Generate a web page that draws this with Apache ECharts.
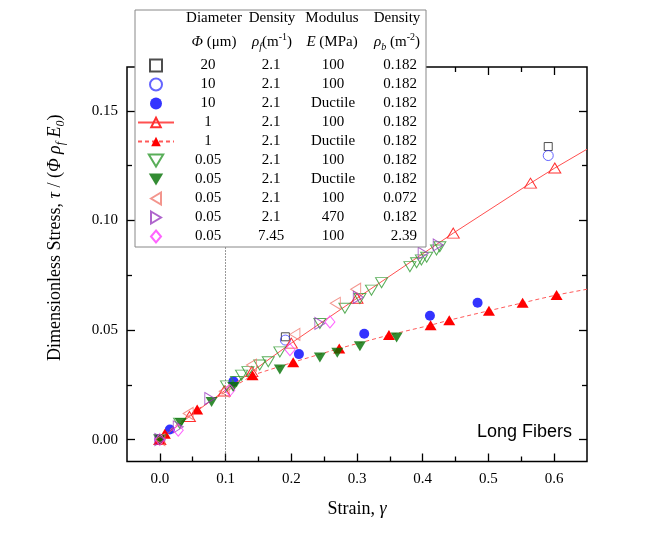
<!DOCTYPE html>
<html><head><meta charset="utf-8">
<script src="https://cdn.jsdelivr.net/npm/echarts@6/dist/echarts.min.js"></script>
<style>html,body{margin:0;padding:0;background:#fff}#c{width:667px;height:541px}</style>
</head><body><div id="c"></div>
<script>
// ---- table (legend) values ----
const diameter     = ['20','10','10','1','1','0.05','0.05','0.05','0.05','0.05'];
const fiberDensity = ['2.1','2.1','2.1','2.1','2.1','2.1','2.1','2.1','2.1','7.45'];
const modulus      = ['100','100','Ductile','100','Ductile','100','Ductile','100','470','100'];
const bondDensity  = ['0.182','0.182','0.182','0.182','0.182','0.182','0.182','0.072','0.182','2.39'];
const headerRow1 = ['Diameter','Density','Modulus','Density'];
const headerRow2 = ['{i|Φ} (μm)','{i|ρ}{sub|f}(m{sup|-1})','{i|E} (MPa)','{i|ρ}{sub|b} (m{sup|-2})'];

// ---- tick labels ----
const xTickLabels = ['0.0','0.1','0.2','0.3','0.4','0.5','0.6'];
const yTickLabels = ['0.00','0.05','0.10','0.15'];

// ---- series values [strain, stress] ----
const d20_E100   = [[0,0],[0.191,0.0469],[0.591,0.1337]];
const d10_E100   = [[0,0],[0.191,0.0454],[0.591,0.1296]];
const d10_duct   = [[0,0],[0.0152,0.0046],[0.112,0.0266],[0.2116,0.039],[0.311,0.0483],[0.411,0.0565],[0.4835,0.0624]];
const d1_E100    = [[0,0],[0.045,0.0105],[0.098,0.0222],[0.14,0.031],[0.2,0.044],[0.3,0.0645],[0.4465,0.0942],[0.564,0.117],[0.601,0.1239]];
const d1_E100_lineEnd = [0.65,0.1325];
const d1_duct    = [[0,0],[0.0076,0.0027],[0.0568,0.0137],[0.141,0.0294],[0.2029,0.0353],[0.273,0.0416],[0.3486,0.0477],[0.412,0.0522],[0.4404,0.0545],[0.5008,0.0588],[0.552,0.0624],[0.6037,0.066]];
const d1_duct_lineEnd = [0.65,0.0686];
const d005_E100  = [[0,0],[0.03,0.0075],[0.1015,0.0245],[0.1167,0.0265],[0.1243,0.0294],[0.134,0.031],[0.152,0.034],[0.165,0.0355],[0.1826,0.04],[0.2435,0.053],[0.2816,0.0599],[0.3044,0.0644],[0.322,0.0682],[0.3374,0.0716],[0.3805,0.0789],[0.3907,0.0807],[0.398,0.082],[0.406,0.0832],[0.421,0.0865],[0.426,0.088]];
const d005_duct  = [[0,0],[0.0315,0.0076],[0.0787,0.0172],[0.1116,0.024],[0.1826,0.032],[0.2435,0.0375],[0.27,0.0396],[0.3044,0.0426],[0.3603,0.0466]];
const d005_b072  = [[0,0],[0.0431,0.0119],[0.098,0.0221],[0.1395,0.034],[0.2055,0.048],[0.267,0.0622],[0.298,0.0686]];
const d005_E470  = [[0,0],[0.028,0.0058],[0.076,0.0187],[0.2435,0.053],[0.302,0.0649],[0.4007,0.085],[0.4236,0.0888]];
const d005_f745  = [[0,0],[0.028,0.0043],[0.1065,0.0225],[0.198,0.041],[0.2588,0.0537]];
const refStrain = 0.1;

// ---- layout ----
const L=127, W=460, T=67, H=394.5;
const X0=-0.05, X1=0.65, Y0=-0.01, Y1=0.17;
const TX1=0.6, TY1=0.15;
const gx = L + W*(0-X0)/(X1-X0), gw = W*(TX1-0)/(X1-X0);
const gy = T + H*(Y1-TY1)/(Y1-Y0), gh = H*(TY1-0)/(Y1-Y0);
const offB = (T+H)-(gy+gh), offT = gy-T, offL = gx-L, offR = (L+W)-(gx+gw);

const SERIF = 'Liberation Serif';
const SYM = {
  square:'path://M0,0H10V10H0Z',
  up:'path://M6,0L12,10H0Z',
  down:'path://M0,0H12L6,10Z',
  left:'path://M0,6L10,0V12Z',
  right:'path://M0,0L10,6L0,12Z',
  diamond:'path://M5,0L10,6L5,12L0,6Z'
};
const names = diameter.map((d,i)=>'s'+i);
const open = c => ({color:'rgba(255,255,255,0)', borderColor:c, borderWidth:1});
const fill = c => ({color:c, borderWidth:0});

const defs = [
  {data:d20_E100, symbol:SYM.square, size:8, style:open('#222')},
  {data:d10_E100, symbol:'circle', size:10, style:open('#3f3fff')},
  {data:d10_duct, symbol:'circle', size:10, style:fill('#0000ff')},
  {data:d1_E100.concat([{value:d1_E100_lineEnd, symbol:'none'}]), symbol:SYM.up, size:[12,10], style:open('#ff3030'), line:{color:'#ff5050', width:1, type:'solid'}},
  {data:d1_duct.concat([{value:d1_duct_lineEnd, symbol:'none'}]), symbol:SYM.up, size:[12,10], style:fill('#ff0000'), line:{color:'#ff5a5a', width:1, type:[4,3]}},
  {data:d005_E100, symbol:SYM.down, size:[12,10], style:open('#2f9a2f')},
  {data:d005_duct, symbol:SYM.down, size:[12,10], style:fill('#006f00')},
  {data:d005_b072, symbol:SYM.left, size:[10,12], style:open('#f07a70')},
  {data:d005_E470, symbol:SYM.right, size:[10,12], style:open('#9b3fc0')},
  {data:d005_f745, symbol:SYM.diamond, size:[10,12], style:open('#ff3cff')}
];

const series = defs.map((d,i)=>{
  const s = {
    name:names[i], type: d.line ? 'line' : 'scatter', xAxisIndex:0, yAxisIndex:0,
    data:d.data, symbol:d.symbol, symbolSize:d.size,
    itemStyle:d.style, emphasis:{disabled:true}, silent:true, z:2+i*0.01
  };
  if (d.line) { s.lineStyle = d.line; s.showSymbol = true; s.showAllSymbol = true; }
  return s;
});
series[0].markLine = {silent:true, symbol:['none','none'], label:{show:false},
  lineStyle:{type:[1,2], color:'#333', width:1}, data:[{xAxis:refStrain}]};

const tickStyle = {color:'#000', width:1.3};
const richHead = {
  i:{fontStyle:'italic', fontFamily:SERIF, fontSize:15, lineHeight:20, color:'#000'},
  sub:{fontStyle:'italic', fontFamily:SERIF, fontSize:10, lineHeight:10, verticalAlign:'bottom', color:'#000'},
  sup:{fontFamily:SERIF, fontSize:10, lineHeight:10, verticalAlign:'top', color:'#000'}
};
const colX = [214, 272, 332, 397];
const graphics = [];
headerRow1.forEach((t,i)=>graphics.push({type:'text', x:colX[i], y:18, z:100, style:{text:t, fontFamily:SERIF, fontSize:15, fill:'#000', align:'center', verticalAlign:'middle'}}));
headerRow2.forEach((t,i)=>graphics.push({type:'text', x:colX[i], y:42, z:100, style:{text:t, fontFamily:SERIF, fontSize:15, lineHeight:20, fill:'#000', align:'center', verticalAlign:'middle', rich:richHead}}));

const option = {
  animation:false,
  backgroundColor:'#fff',
  title:{text:'Long Fibers', right:95, top:423, padding:0,
    textStyle:{fontFamily:'Liberation Sans', fontSize:18, fontWeight:'normal', color:'#000'}},
  grid:[
    {left:L, top:T, width:W, height:H, show:true, borderColor:'#000', borderWidth:1.5, backgroundColor:'transparent'},
    {left:gx, top:gy, width:gw, height:gh}
  ],
  xAxis:[
    {gridIndex:0, type:'value', min:X0, max:X1, axisLine:{show:false, onZero:false}, axisTick:{show:false}, axisLabel:{show:false}, splitLine:{show:false},
     name:'Strain, {i|γ}', nameLocation:'middle', nameGap:39,
     nameTextStyle:{fontFamily:SERIF, fontSize:18, color:'#000', rich:{i:{fontStyle:'italic', fontFamily:SERIF, fontSize:18, color:'#000'}}}},
    {gridIndex:1, type:'value', min:0, max:TX1, interval:0.1, position:'bottom', offset:offB,
     axisLine:{show:false, onZero:false}, splitLine:{show:false},
     axisTick:{inside:true, length:8, lineStyle:tickStyle},
     minorTick:{show:true, splitNumber:2, length:5, lineStyle:tickStyle},
     axisLabel:{margin:10, fontFamily:SERIF, fontSize:15, color:'#000', formatter:v=>xTickLabels[Math.round(v*10)]}},
    {gridIndex:1, type:'value', min:0, max:TX1, interval:0.1, position:'top', offset:offT,
     axisLine:{show:false, onZero:false}, splitLine:{show:false},
     axisTick:{inside:true, length:8, lineStyle:tickStyle},
     minorTick:{show:true, splitNumber:2, length:5, lineStyle:tickStyle},
     axisLabel:{show:false}}
  ],
  yAxis:[
    {gridIndex:0, type:'value', min:Y0, max:Y1, axisLine:{show:false, onZero:false}, axisTick:{show:false}, axisLabel:{show:false}, splitLine:{show:false},
     name:'{sp| }Dimensionless Stress, {i|τ} / ({i|Φ} {i|ρ}{sub|f} {i|E}{sub|0})', nameLocation:'middle', nameGap:60,
     nameTextStyle:{fontFamily:SERIF, fontSize:18, lineHeight:24, color:'#000', rich:{
       sp:{width:53, fontSize:18, lineHeight:24},
       i:{fontStyle:'italic', fontFamily:SERIF, fontSize:18, lineHeight:24, color:'#000'},
       sub:{fontStyle:'italic', fontFamily:SERIF, fontSize:12, lineHeight:12, verticalAlign:'bottom', color:'#000'}}}},
    {gridIndex:1, type:'value', min:0, max:TY1, interval:0.05, position:'left', offset:offL,
     axisLine:{show:false, onZero:false}, splitLine:{show:false},
     axisTick:{inside:true, length:8, lineStyle:tickStyle},
     minorTick:{show:true, splitNumber:2, length:5, lineStyle:tickStyle},
     axisLabel:{margin:9, fontFamily:SERIF, fontSize:15, color:'#000', formatter:v=>yTickLabels[Math.round(v*20)]}},
    {gridIndex:1, type:'value', min:0, max:TY1, interval:0.05, position:'right', offset:offR,
     axisLine:{show:false, onZero:false}, splitLine:{show:false},
     axisTick:{inside:true, length:8, lineStyle:tickStyle},
     minorTick:{show:true, splitNumber:2, length:5, lineStyle:tickStyle},
     axisLabel:{show:false}}
  ],
  legend:{
    left:135, top:10, orient:'vertical', itemWidth:36, itemHeight:12, itemGap:0,
    padding:[46,9,1,2], backgroundColor:'#fff', borderColor:'#888', borderWidth:1,
    selectedMode:false, data:names, z:10, symbolKeepAspect:true,
    formatter:name=>{const i=names.indexOf(name); return `{a|${diameter[i]}}{b|${fiberDensity[i]}}{c|${modulus[i]}}{d|${bondDensity[i]}}`;},
    textStyle:{fontFamily:SERIF, fontSize:15, color:'#000', lineHeight:19, rich:{
      a:{width:58, align:'center', fontFamily:SERIF, fontSize:15, lineHeight:19, color:'#000'},
      b:{width:68, align:'center', fontFamily:SERIF, fontSize:15, lineHeight:19, color:'#000'},
      c:{width:56, align:'center', fontFamily:SERIF, fontSize:15, lineHeight:19, color:'#000'},
      d:{width:56, align:'right', fontFamily:SERIF, fontSize:15, lineHeight:19, color:'#000'}}}
  },
  graphic:{elements:graphics},
  series:series
};
const chart = echarts.init(document.getElementById('c'), null, {renderer:'canvas'});
chart.setOption(option);
</script></body></html>
